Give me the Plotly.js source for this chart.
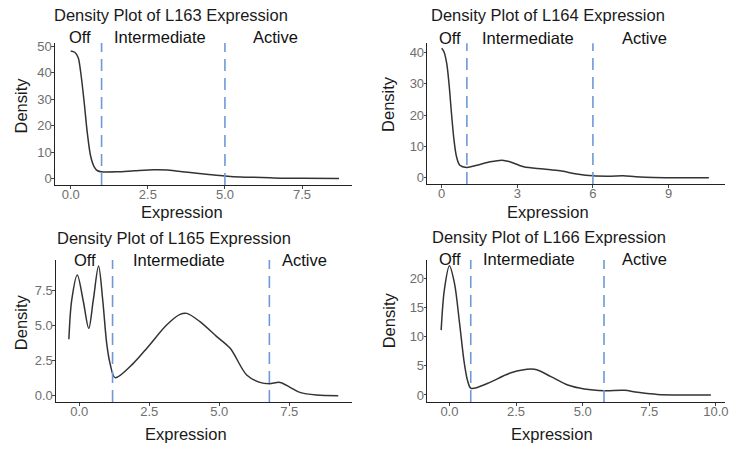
<!DOCTYPE html>
<html>
<head>
<meta charset="utf-8">
<script src="https://cdn.plot.ly/plotly-3.0.1.min.js"></script>
<style>html,body{margin:0;padding:0;background:#fff;}#chart{width:742px;height:449px;}</style>
</head>
<body>
<div id="chart"></div>
<script>
// ---- data ----
const l163X = [0, 0.13, 0.24, 0.32, 0.43, 0.54, 0.65, 0.76, 0.87, 1.0, 1.5, 2.06, 2.7, 3.14, 3.8, 4.4, 5.0, 5.5, 6.2, 6.8, 7.5, 8.7];
const l163Y = [48.3, 47.8, 45.8, 40.5, 29.5, 17.0, 8.2, 4.4, 2.9, 2.5, 2.5, 2.9, 3.3, 3.2, 2.3, 1.6, 0.9, 0.5, 0.35, 0.1, 0.03, 0];

const l164X = [0, 0.09, 0.2, 0.29, 0.39, 0.49, 0.59, 0.72, 0.99, 1.4, 1.93, 2.4, 2.7, 3.25, 4.04, 4.7, 5.36, 6.0, 6.7, 7.2, 7.7, 8.4, 10.6];
const l164Y = [41.3, 40.2, 36.5, 30.1, 20.5, 12.0, 6.7, 4.0, 3.3, 4.0, 5.1, 5.6, 5.1, 3.5, 2.8, 2.2, 1.2, 0.6, 0.5, 0.6, 0.3, 0.05, 0];

const l165X = [-0.37, -0.27, -0.07, 0.14, 0.34, 0.5, 0.69, 0.84, 0.98, 1.1, 1.28, 1.93, 2.46, 3.12, 3.6, 3.84, 4.31, 4.91, 5.39, 5.98, 6.45, 6.79, 7.17, 7.53, 7.88, 8.47, 9.25];
const l165Y = [4.03, 6.8, 8.62, 6.8, 4.81, 6.8, 9.26, 6.8, 3.74, 2.31, 1.29, 2.31, 3.5, 5.05, 5.81, 5.88, 5.29, 4.22, 3.38, 1.48, 0.95, 0.86, 0.95, 0.6, 0.24, 0.05, 0];

const l166X = [-0.31, -0.19, 0, 0.19, 0.38, 0.56, 0.69, 0.81, 1.44, 2.31, 3.19, 3.81, 4.44, 5.06, 5.81, 6.56, 7.06, 7.81, 9.81];
const l166Y = [11.1, 18.0, 22.1, 19.1, 12.3, 5.4, 2.3, 1.14, 2.0, 3.8, 4.4, 3.14, 1.7, 1.03, 0.74, 0.8, 0.46, 0.1, 0];

const lineNames = ["L163", "L164", "L165", "L166"];
const cutL163 = [1.0, 5.0];
const cutL164 = [1.0, 6.0];
const cutL165 = [1.19, 6.79];
const cutL166 = [0.8, 5.8];
const regionLabels = ["Off", "Intermediate", "Active"];

const xTicks163 = [0, 2.5, 5, 7.5], xTickText163 = ["0.0", "2.5", "5.0", "7.5"];
const yTicks163 = [0, 10, 20, 30, 40, 50], yTickText163 = ["0", "10", "20", "30", "40", "50"];
const xTicks164 = [0, 3, 6, 9], xTickText164 = ["0", "3", "6", "9"];
const yTicks164 = [0, 10, 20, 30, 40], yTickText164 = ["0", "10", "20", "30", "40"];
const xTicks165 = [0, 2.5, 5, 7.5], xTickText165 = ["0.0", "2.5", "5.0", "7.5"];
const yTicks165 = [0, 2.5, 5, 7.5], yTickText165 = ["0.0", "2.5", "5.0", "7.5"];
const xTicks166 = [0, 2.5, 5, 7.5, 10], xTickText166 = ["0.0", "2.5", "5.0", "7.5", "10.0"];
const yTicks166 = [0, 5, 10, 15, 20], yTickText166 = ["0", "5", "10", "15", "20"];

// ---- layout helpers ----
const W = 742, H = 449;
const px = v => v / W;
const py = v => 1 - v / H;
const FONT = '"Liberation Sans", Arial, Helvetica, sans-serif';

const panels = [
  {xs: l163X, ys: l163Y, cut: cutL163, xt: xTicks163, xtt: xTickText163, yt: yTicks163, ytt: yTickText163,
   dx: [55, 352], dy: [43, 185], xr: [-0.51, 9.12], yr: [-2.5, 51.3],
   title: [51.7, 15], lab: [0.3, 2.88, 6.63], labY: 37.5, xtitle: [181.7, 212], ytitle: [20.7, 105.8]},
  {xs: l164X, ys: l164Y, cut: cutL164, xt: xTicks164, xtt: xTickText164, yt: yTicks164, ytt: yTickText164,
   dx: [427.3, 725], dy: [43.3, 184], xr: [-0.57, 11.24], yr: [-2.0, 42.9],
   title: [429.3, 15], lab: [0.33, 3.44, 8.04], labY: 38, xtitle: [548, 212], ytitle: [387.7, 104.2]},
  {xs: l165X, ys: l165Y, cut: cutL165, xt: xTicks165, xtt: xTickText165, yt: yTicks165, ytt: yTickText165,
   dx: [56, 351.7], dy: [260, 402], xr: [-0.83, 9.73], yr: [-0.45, 9.69],
   title: [55, 238.3], lab: [0.2, 3.55, 8.05], labY: 260, xtitle: [185.8, 433.5], ytitle: [20.7, 322.5]},
  {xs: l166X, ys: l166Y, cut: cutL166, xt: xTicks166, xtt: xTickText166, yt: yTicks166, ytt: yTickText166,
   dx: [427.3, 725], dy: [260, 402], xr: [-0.83, 10.34], yr: [-1.2, 23.1],
   title: [430.3, 236.7], lab: [0.02, 2.97, 7.31], labY: 259.3, xtitle: [551.8, 434.3], ytitle: [389.3, 320]}
];

const data = [];
const shapes = [];
const annotations = [];
const layout = {
  width: W, height: H,
  margin: {l: 0, r: 0, t: 0, b: 0},
  paper_bgcolor: '#ffffff', plot_bgcolor: '#ffffff',
  showlegend: false,
  font: {family: FONT, color: '#1a1a1a'}
};

panels.forEach((p, i) => {
  const n = i + 1;
  const xa = n === 1 ? 'x' : 'x' + n;
  const ya = n === 1 ? 'y' : 'y' + n;
  const xkey = n === 1 ? 'xaxis' : 'xaxis' + n;
  const ykey = n === 1 ? 'yaxis' : 'yaxis' + n;

  data.push({
    type: 'scatter', mode: 'lines', x: p.xs, y: p.ys, xaxis: xa, yaxis: ya,
    line: {color: '#333333', width: 1.5, shape: 'spline', smoothing: 0.9},
    hoverinfo: 'skip'
  });

  const axCommon = {
    showline: true, linecolor: '#222222', linewidth: 1.1,
    ticks: 'outside', ticklen: 2.5, tickwidth: 1, tickcolor: '#444444',
    showgrid: false, zeroline: false, fixedrange: true,
    tickfont: {family: FONT, size: 13, color: '#6e6e6e'}, tickmode: 'array'
  };
  layout[xkey] = Object.assign({}, axCommon, {
    domain: [px(p.dx[0]), px(p.dx[1])], range: p.xr, anchor: ya,
    tickvals: p.xt, ticktext: p.xtt, ticklabelstandoff: -5
  });
  layout[ykey] = Object.assign({}, axCommon, {
    domain: [py(p.dy[1]), py(p.dy[0])], range: p.yr, anchor: xa,
    tickvals: p.yt, ticktext: p.ytt, ticklabelstandoff: -3
  });

  p.cut.forEach(c => {
    shapes.push({
      type: 'line', xref: xa, yref: ya + ' domain', x0: c, x1: c, y0: 0, y1: 1,
      line: {color: '#6f98d8', width: 1.6, dash: '12px,7px'}
    });
  });

  annotations.push({
    text: 'Density Plot of ' + lineNames[i] + ' Expression', xref: 'paper', yref: 'paper',
    x: px(p.title[0]), y: py(p.title[1]), xanchor: 'left', yanchor: 'middle', showarrow: false,
    font: {family: FONT, size: 16.5, color: '#1a1a1a'}
  });
  regionLabels.forEach((t, k) => {
    annotations.push({
      text: t, xref: xa, yref: 'paper', x: p.lab[k], y: py(p.labY),
      xanchor: 'center', yanchor: 'middle', showarrow: false,
      font: {family: FONT, size: 16.5, color: '#111111'}
    });
  });
  annotations.push({
    text: 'Expression', xref: 'paper', yref: 'paper', x: px(p.xtitle[0]), y: py(p.xtitle[1]),
    xanchor: 'center', yanchor: 'middle', showarrow: false,
    font: {family: FONT, size: 16.5, color: '#1a1a1a'}
  });
  annotations.push({
    text: 'Density', xref: 'paper', yref: 'paper', x: px(p.ytitle[0]), y: py(p.ytitle[1]),
    xanchor: 'center', yanchor: 'middle', showarrow: false, textangle: -90,
    font: {family: FONT, size: 16.5, color: '#1a1a1a'}
  });
});

layout.shapes = shapes;
layout.annotations = annotations;

Plotly.newPlot('chart', data, layout, {displayModeBar: false, staticPlot: true});
</script>
</body>
</html>
